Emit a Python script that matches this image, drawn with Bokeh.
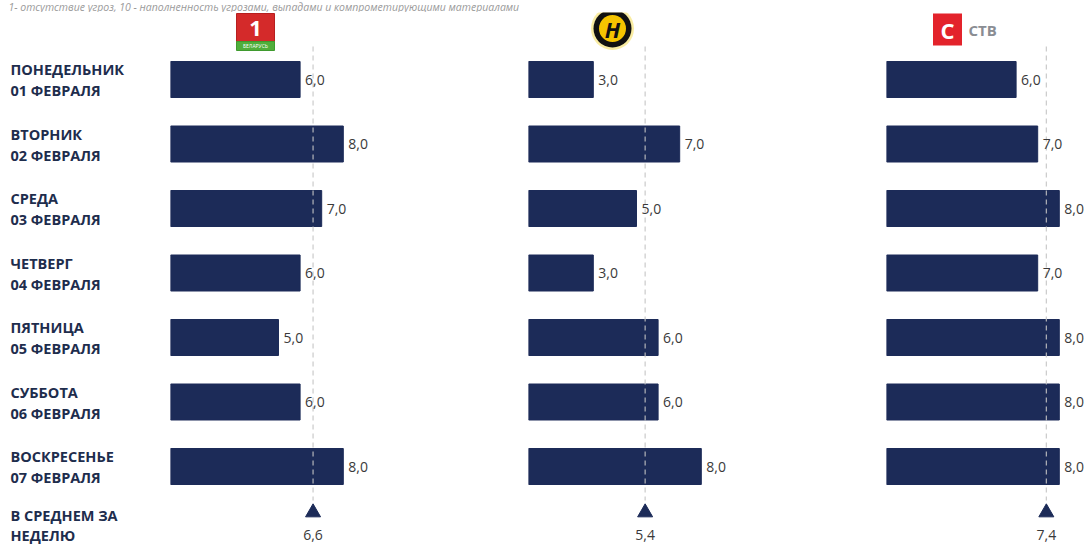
from bokeh.plotting import figure
from bokeh.models import Range1d, ColumnDataSource
from bokeh.layouts import column, row
from bokeh.core.properties import value
from bokeh.embed import file_html
from bokeh.resources import INLINE

# ---------------- data ----------------
subtitle = "1- отсутствие угроз, 10 - наполненность угрозами, выпадами и компрометирующими материалами"
days = ["ПОНЕДЕЛЬНИК", "ВТОРНИК", "СРЕДА", "ЧЕТВЕРГ", "ПЯТНИЦА", "СУББОТА", "ВОСКРЕСЕНЬЕ"]
dates = ["01 ФЕВРАЛЯ", "02 ФЕВРАЛЯ", "03 ФЕВРАЛЯ", "04 ФЕВРАЛЯ", "05 ФЕВРАЛЯ", "06 ФЕВРАЛЯ", "07 ФЕВРАЛЯ"]
avg_label = ["В СРЕДНЕМ ЗА", "НЕДЕЛЮ"]
channels = ["Беларусь 1", "ОНТ", "СТВ"]
belarus1 = [6, 8, 7, 6, 5, 6, 8]
ont = [3, 7, 5, 3, 6, 6, 8]
stv = [6, 7, 8, 7, 8, 8, 8]
averages = [6.6, 5.4, 7.4]

# ---------------- style ----------------
FONT = "Open Sans"
NAVY = "#1c2b58"
LABEL_COL = "#1e2d4d"
VAL_COL = "#3a3a3a"
SCALE = 21.6          # px per unit
ROW_PX = 64.5         # px per row
SUB_H = 12
ROW0 = 79 - SUB_H     # fig y of row 0 centre
H_ROWS = 545 - SUB_H
W_LABEL, W1, W2, W3 = 170, 358, 358, 202
AVG_ROW = (528 - 79) / ROW_PX
BAR_H = 36 / ROW_PX


def pg(py):
    # page y -> row units
    return (py - 79) / ROW_PX


def mk(w, h, xr, yr):
    p = figure(width=w, height=h, x_range=xr, y_range=yr, output_backend="svg",
               toolbar_location=None, min_border=0, x_axis_location=None,
               y_axis_location=None, outline_line_color=None)
    p.xgrid.grid_line_color = None
    p.ygrid.grid_line_color = None
    p.background_fill_color = "white"
    p.border_fill_color = "white"
    return p


def y_range():
    return Range1d(start=(H_ROWS - ROW0) / ROW_PX, end=-ROW0 / ROW_PX)


fmt = lambda v: f"{v:.1f}".replace(".", ",")

# ---------------- subtitle strip ----------------
TOTAL_W = W_LABEL + W1 + W2 + W3
sub = mk(TOTAL_W, SUB_H, Range1d(0, TOTAL_W), Range1d(0, SUB_H))
sub.text(x=[8], y=[SUB_H / 2], text=[subtitle], text_font=value(FONT), text_font_size="10.5px",
         text_font_style="italic", text_color="#9a9a9a", text_baseline="middle")

# ---------------- row labels ----------------
lab = mk(W_LABEL, H_ROWS, Range1d(0, W_LABEL), y_range())
idx = list(range(len(days)))
lab.text(x=[10] * len(days), y=idx, text=days, y_offset=-10, text_font=value(FONT),
         text_font_size="14.5px", text_font_style="bold", text_color=LABEL_COL,
         text_baseline="middle")
lab.text(x=[10] * len(days), y=idx, text=dates, y_offset=11, text_font=value(FONT),
         text_font_size="14.5px", text_font_style="bold", text_color=LABEL_COL,
         text_baseline="middle")
lab.text(x=[10, 10], y=[AVG_ROW, AVG_ROW], text=avg_label, y_offset=[-13, 7],
         text_font=value(FONT), text_font_size="14.5px", text_font_style="bold",
         text_color=LABEL_COL, text_baseline="middle")


# ---------------- channel panels ----------------
def panel(width, vals, avg):
    p = mk(width, H_ROWS, Range1d(0, width / SCALE), y_range())
    src = ColumnDataSource(dict(y=idx, v=vals, lbl=[fmt(v) for v in vals]))
    p.hbar(y="y", right="v", left=0, height=BAR_H, source=src, fill_color=NAVY,
           line_color=NAVY)
    p.segment(x0=[avg], x1=[avg], y0=[pg(46)], y1=[pg(500)], line_color="#c4c4c4",
              line_width=1.2, line_dash="5 4", line_alpha=0.9)
    p.text(x="v", y="y", text="lbl", source=src, x_offset=5, text_font=value(FONT),
           text_font_size="14px", text_color=VAL_COL, text_baseline="middle")
    p.scatter(x=[avg], y=[AVG_ROW - 16 / ROW_PX], marker="triangle", size=15,
              fill_color=NAVY, line_color=NAVY)
    p.text(x=[avg], y=[AVG_ROW + 6 / ROW_PX], text=[fmt(avg)], text_font=value(FONT),
           text_font_size="14px", text_color=VAL_COL, text_baseline="middle",
           text_align="center")
    return p


p1 = panel(W1, belarus1, averages[0])
p2 = panel(W2, ont, averages[1])
p3 = panel(W3, stv, averages[2])

# logo: Беларусь 1
lx = (255 - W_LABEL) / SCALE
p1.rect(x=[lx], y=[pg(27)], width=38, height=28, width_units="screen",
        height_units="screen", fill_color="#d42a2a", line_color="#b71f1f")
p1.rect(x=[lx], y=[pg(45.5)], width=38, height=9, width_units="screen",
        height_units="screen", fill_color="#4fae3b", line_color="#3f9a2e")
p1.text(x=[lx], y=[pg(28)], text=["1"], text_font=value(FONT), text_font_size="22px",
        text_font_style="bold", text_color="white", text_align="center",
        text_baseline="middle")
p1.text(x=[lx], y=[pg(45.5)], text=["БЕЛАРУСЬ"], text_font=value(FONT),
        text_font_size="5px", text_color="white", text_align="center",
        text_baseline="middle")

# logo: ОНТ
ox = (612 - W_LABEL - W1) / SCALE
p2.scatter(x=[ox], y=[pg(28)], marker="circle", size=43, fill_color="#f6e47a",
           line_color=None, fill_alpha=0.7)
p2.scatter(x=[ox], y=[pg(28)], marker="circle", size=38, fill_color="#111111",
           line_color=None)
p2.scatter(x=[ox], y=[pg(28)], marker="circle", size=27, fill_color="#f5c400",
           line_color=None)
p2.text(x=[ox], y=[pg(28)], text=["Н"], text_font=value(FONT), text_font_size="22px",
        text_font_style="bold italic", text_color="#111111", text_align="center",
        text_baseline="middle")

# logo: СТВ
x3 = W_LABEL + W1 + W2
sx = (947 - x3) / SCALE
p3.rect(x=[sx], y=[pg(29)], width=29, height=32, width_units="screen",
        height_units="screen", fill_color="#e3232b", line_color=None)
p3.text(x=[sx], y=[pg(29)], text=["С"], text_font=value(FONT), text_font_size="22px",
        text_font_style="bold", text_color="white", text_align="center",
        text_baseline="middle")
p3.text(x=[(968 - x3) / SCALE], y=[pg(29)], text=["СТВ"], text_font=value(FONT),
        text_font_size="15px", text_font_style="bold", text_color="#8a8d93",
        text_baseline="middle")

layout = column(sub, row(lab, p1, p2, p3, spacing=0), spacing=0)
open("out.html", "w").write(file_html(layout, INLINE))
